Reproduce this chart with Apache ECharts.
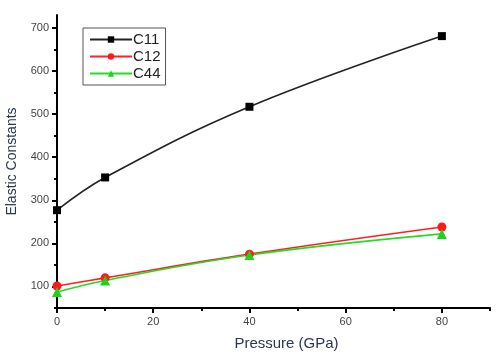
<!DOCTYPE html>
<html><head><meta charset="utf-8">
<script src="https://cdn.jsdelivr.net/npm/echarts@6/dist/echarts.min.js"></script>
<style>html,body{margin:0;padding:0;background:#fff}#c{width:500px;height:353px}</style>
</head><body><div id="c"></div>
<script>
const pressure = [0, 10, 40, 80];
const c11 = [277, 353, 517, 681];
const c12 = [101, 120, 175, 238];
const c44 = [87, 114, 173, 222];
const xMajor = [0, 20, 40, 60, 80];
const xMinor = [10, 30, 50, 70, 90];
const yMajor = [100, 200, 300, 400, 500, 600, 700];
const yMinor = [50, 150, 250, 350, 450, 550, 650];

const chart = echarts.init(document.getElementById('c'));
const pair = a => pressure.map((p, i) => [p, a[i]]);
const lblFont = {color: '#444', fontSize: 11, fontFamily: 'Liberation Sans'};
const base = {min: 0, max: 90, type: 'value'};
chart.setOption({
  animation: false,
  grid: {left: 57, right: 10, top: 15, bottom: 45, outerBoundsMode: 'none', containLabel: false},
  legend: {
    left: 83, top: 28, orient: 'vertical', itemGap: 2, itemWidth: 42, itemHeight: 8,
    borderColor: '#555', borderWidth: 1, padding: [4, 5, 4, 6],
    textStyle: {fontSize: 15, color: '#222', fontFamily: 'Liberation Sans', padding: [0, 0, 0, -4]},
    data: ['C11', 'C12', 'C44']
  },
  xAxis: [
    Object.assign({}, base, {
      name: 'Pressure (GPa)', nameLocation: 'middle', nameGap: 28,
      nameTextStyle: {fontSize: 15, color: '#2a3550', fontFamily: 'Liberation Sans', padding: [0, 0, 0, 26]},
      axisLine: {lineStyle: {color: '#000', width: 2}},
      axisTick: {customValues: xMajor, length: 5, lineStyle: {color: '#000', width: 2}},
      axisLabel: Object.assign({customValues: xMajor, margin: 8}, lblFont),
      splitLine: {show: false}
    }),
    Object.assign({}, base, {
      position: 'bottom',
      axisLine: {show: false},
      axisTick: {customValues: xMinor, length: 3, lineStyle: {color: '#000', width: 2}},
      axisLabel: {show: false}, splitLine: {show: false}
    })
  ],
  yAxis: [
    {
      type: 'value', min: 50, max: 730,
      name: 'Elastic Constants', nameLocation: 'middle', nameGap: 38, nameRotate: 90,
      nameTextStyle: {fontSize: 14, color: '#2a3550', fontFamily: 'Liberation Sans'},
      axisLine: {show: true, lineStyle: {color: '#000', width: 2}},
      axisTick: {show: true, customValues: yMajor, length: 5, lineStyle: {color: '#000', width: 2}},
      axisLabel: Object.assign({customValues: yMajor, margin: 8}, lblFont),
      splitLine: {show: false}
    },
    {
      type: 'value', min: 50, max: 730, position: 'left',
      axisLine: {show: false},
      axisTick: {show: true, customValues: yMinor, length: 3, lineStyle: {color: '#000', width: 2}},
      axisLabel: {show: false}, splitLine: {show: false}
    }
  ],
  series: [
    {name: 'C11', type: 'line', data: pair(c11), smooth: 0.4, symbol: 'rect', symbolSize: 8,
     lineStyle: {color: '#222', width: 1.6}, itemStyle: {color: '#000'}},
    {name: 'C12', type: 'line', data: pair(c12), smooth: 0.4, symbol: 'circle', symbolSize: 9,
     lineStyle: {color: '#ff2020', width: 1.6}, itemStyle: {color: '#ff1a1a'}},
    {name: 'C44', type: 'line', data: pair(c44), smooth: 0.4, symbol: 'triangle', symbolSize: 10,
     lineStyle: {color: '#22dd22', width: 1.6}, itemStyle: {color: '#1ed21e'}}
  ]
});
</script></body></html>
